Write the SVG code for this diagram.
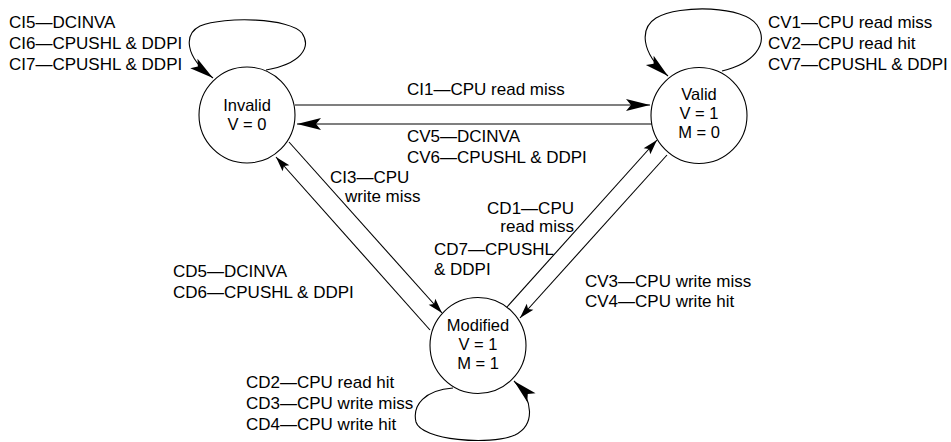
<svg xmlns="http://www.w3.org/2000/svg" width="951" height="442" viewBox="0 0 951 442">
<style>
text{font-family:"Liberation Sans",Arial,sans-serif;font-size:17px;fill:#000}
.mid{text-anchor:middle;font-size:16.5px}
.end{text-anchor:end}
.node{fill:#fff;stroke:#000;stroke-width:1.1}
.con{fill:none;stroke:#000;stroke-width:1.1}
.big{marker-end:url(#bigArrow)}
.small{marker-end:url(#smallArrow)}
</style>
<defs>
<marker id="bigArrow" markerUnits="userSpaceOnUse" viewBox="-25 -7 26 14" refX="0" refY="0" markerWidth="26" markerHeight="14" orient="auto">
<path d="M0,0 L-24,-6 L-19,0 L-24,6 Z" fill="#000"/>
</marker>
<marker id="smallArrow" markerUnits="userSpaceOnUse" viewBox="-16 -5 17 10" refX="0" refY="0" markerWidth="17" markerHeight="10" orient="auto">
<path d="M0,0 L-15,-4.5 L-12,0 L-15,4.5 Z" fill="#000"/>
</marker>
</defs>
<rect width="951" height="442" fill="#fff"/>
<g id="connectors">
<line class="con big" x1="295" y1="105" x2="650" y2="105"/>
<line class="con big" x1="652" y1="124" x2="297" y2="124"/>
<line class="con small" x1="430" y1="330" x2="276" y2="157"/>
<line class="con small" x1="289" y1="142" x2="442" y2="313"/>
<line class="con small" x1="507" y1="307" x2="657" y2="140"/>
<line class="con small" x1="667" y1="155" x2="520" y2="318"/>
<path class="con big" d="M266,70 C300,64 312,48 302,33 C290,18 225,16 200,26 C184,34 184,56 213,78"/>
<path class="con big" d="M722,71 C752,64 770,45 757,25 C745,6 680,4 656,18 C640,28 640,52 668,76"/>
<path class="con big" d="M453,388 C425,390 412,405 416,422 C421,440 490,446 515,435 C535,425 534,400 514,381"/>
</g>
<g id="invalid">
<circle class="node" cx="247" cy="115" r="48"/>
<text class="mid" x="247" y="111">Invalid</text>
<text class="mid" x="247" y="130">V = 0</text>
</g>
<g id="valid">
<circle class="node" cx="699" cy="115.5" r="48"/>
<text class="mid" x="699" y="100">Valid</text>
<text class="mid" x="699" y="119">V = 1</text>
<text class="mid" x="699" y="138">M = 0</text>
</g>
<g id="modified">
<circle class="node" cx="478" cy="345.5" r="48"/>
<text class="mid" x="478" y="331">Modified</text>
<text class="mid" x="478" y="350">V = 1</text>
<text class="mid" x="478" y="369">M = 1</text>
</g>
<g id="labels">
<text x="9" y="28">CI5—DCINVA</text>
<text x="9" y="49">CI6—CPUSHL &amp; DDPI</text>
<text x="9" y="70">CI7—CPUSHL &amp; DDPI</text>
<text x="768" y="28">CV1—CPU read miss</text>
<text x="768" y="49">CV2—CPU read hit</text>
<text x="768" y="70">CV7—CPUSHL &amp; DDPI</text>
<text x="407" y="95">CI1—CPU read miss</text>
<text x="407" y="142">CV5—DCINVA</text>
<text x="407" y="163">CV6—CPUSHL &amp; DDPI</text>
<text x="330" y="183">CI3—CPU</text>
<text x="345" y="202">write miss</text>
<text class="end" x="574" y="214">CD1—CPU</text>
<text class="end" x="574" y="232">read miss</text>
<text x="434" y="255">CD7—CPUSHL</text>
<text x="434" y="275">&amp; DDPI</text>
<text x="173" y="277">CD5—DCINVA</text>
<text x="173" y="298">CD6—CPUSHL &amp; DDPI</text>
<text x="585" y="287">CV3—CPU write miss</text>
<text x="585" y="307">CV4—CPU write hit</text>
<text x="246" y="388">CD2—CPU read hit</text>
<text x="246" y="409">CD3—CPU write miss</text>
<text x="246" y="430">CD4—CPU write hit</text>
</g>
</svg>
